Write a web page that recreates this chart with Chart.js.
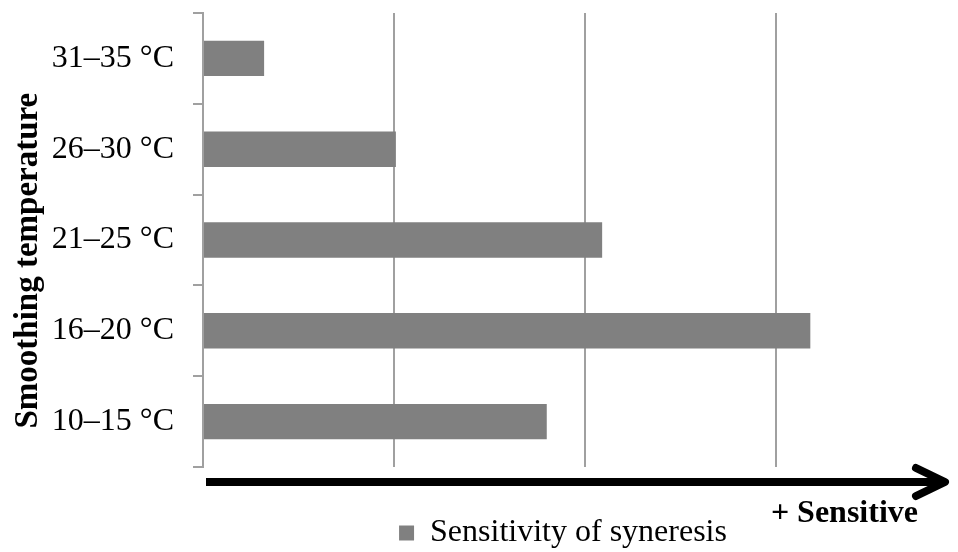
<!DOCTYPE html>
<html>
<head>
<meta charset="utf-8">
<script src="https://cdn.jsdelivr.net/npm/chart.js@4/dist/chart.umd.min.js"></script>
<style>
  html, body { margin: 0; padding: 0; background: #ffffff; }
  canvas { display: block; }
</style>
</head>
<body>
<canvas id="c" width="958" height="552"></canvas>
<script>
// ---- data ----
const categories = ['31–35 °C', '26–30 °C', '21–25 °C', '16–20 °C', '10–15 °C'];
const sensitivity = [0.32, 1.01, 2.09, 3.18, 1.80];
const seriesName = 'Sensitivity of syneresis';
const yAxisTitle = 'Smoothing temperature';
const arrowLabel = '+ Sensitive';

const SERIF = '"Liberation Serif", "Times New Roman", Times, serif';
const GRID = '#a0a0a0';

const arrowPlugin = {
  id: 'arrowPlugin',
  afterDraw(chart) {
    const ctx = chart.ctx;
    const a = chart.chartArea;
    const y = a.bottom + 15;
    const x0 = a.left + 3;
    const x1 = 945;
    ctx.save();
    ctx.strokeStyle = '#000';
    ctx.lineWidth = 8;
    ctx.lineCap = 'butt';
    ctx.beginPath();
    ctx.moveTo(x0, y);
    ctx.lineTo(x1 - 4, y);
    ctx.stroke();
    ctx.lineCap = 'round';
    ctx.lineJoin = 'round';
    ctx.beginPath();
    ctx.moveTo(x1 - 29, y - 14);
    ctx.lineTo(x1, y);
    ctx.lineTo(x1 - 29, y + 14);
    ctx.stroke();
    ctx.fillStyle = '#000';
    ctx.font = 'bold 32px ' + SERIF;
    ctx.textAlign = 'right';
    ctx.textBaseline = 'alphabetic';
    ctx.fillText(arrowLabel, 918, y + 40);
    ctx.restore();
  }
};

new Chart(document.getElementById('c'), {
  type: 'bar',
  data: {
    labels: categories,
    datasets: [{
      label: seriesName,
      data: sensitivity,
      backgroundColor: '#808080',
      borderWidth: 0,
      categoryPercentage: 1.0,
      barPercentage: 0.39
    }]
  },
  options: {
    indexAxis: 'y',
    responsive: false,
    animation: false,
    devicePixelRatio: 1,
    layout: { padding: { left: 0, right: 35, top: 13, bottom: -7 } },
    plugins: {
      tooltip: { enabled: false },
      legend: {
        display: true,
        position: 'bottom',
        fullSize: false,
        labels: {
          color: '#000',
          font: { family: SERIF, size: 32 },
          boxWidth: 15,
          boxHeight: 15,
          padding: 6
        }
      }
    },
    scales: {
      x: {
        type: 'linear',
        min: 0,
        max: 3.77,
        ticks: { display: false, stepSize: 1 },
        grid: {
          drawTicks: false,
          lineWidth: 2,
          color: (c) => (c.tick && Number.isInteger(c.tick.value)) ? GRID : 'rgba(0,0,0,0)'
        },
        border: { display: false },
        afterFit(scale) { scale.height = 44; }
      },
      y: {
        type: 'category',
        offset: true,
        ticks: {
          color: '#000',
          font: { family: SERIF, size: 32 },
          padding: 19
        },
        grid: {
          offset: true,
          drawOnChartArea: false,
          drawTicks: true,
          tickLength: 10,
          lineWidth: 2,
          color: GRID
        },
        border: { display: true, color: GRID, width: 2 },
        title: {
          display: true,
          text: yAxisTitle + '     ',
          color: '#000',
          font: { family: SERIF, size: 33, weight: 'bold' },
          padding: { top: 9, bottom: 0 }
        },
        afterFit(scale) {
          scale.width = 203;
          scale.paddingTop = 0;
          scale.paddingBottom = 0;
        }
      }
    }
  },
  plugins: [arrowPlugin]
});
</script>
</body>
</html>
